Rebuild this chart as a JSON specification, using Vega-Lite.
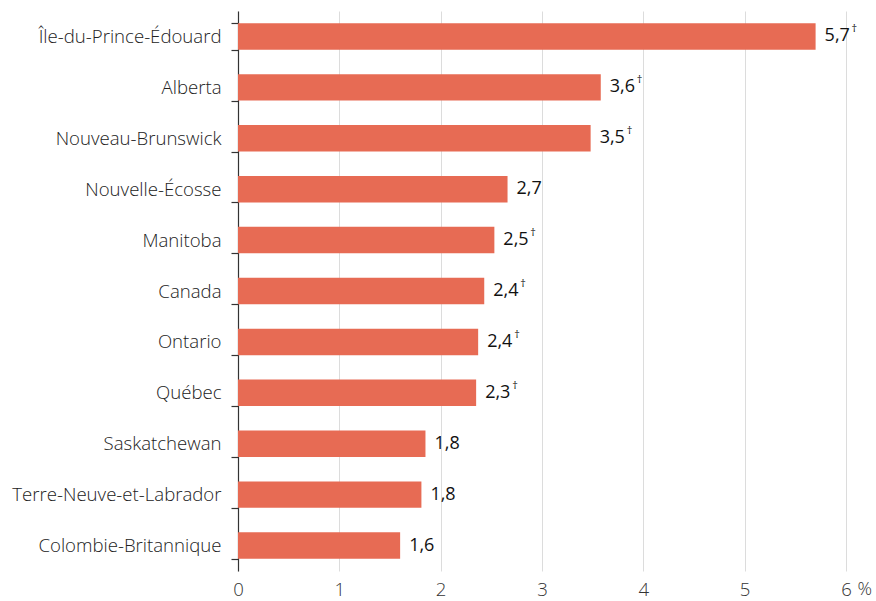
{
  "$schema": "https://vega.github.io/schema/vega-lite/v6.json",
  "autosize": {"type": "none"},
  "padding": {"left": 238, "top": 11, "right": 30, "bottom": 30},
  "width": 608,
  "height": 560,
  "config": {
    "view": {"stroke": null},
    "font": "Open Sans"
  },
  "data": {
    "values": [
      {"region": "Île-du-Prince-Édouard", "value": 5.7, "label": "5,7", "dagger": "†"},
      {"region": "Alberta", "value": 3.58, "label": "3,6", "dagger": "†"},
      {"region": "Nouveau-Brunswick", "value": 3.48, "label": "3,5", "dagger": "†"},
      {"region": "Nouvelle-Écosse", "value": 2.66, "label": "2,7", "dagger": ""},
      {"region": "Manitoba", "value": 2.53, "label": "2,5", "dagger": "†"},
      {"region": "Canada", "value": 2.43, "label": "2,4", "dagger": "†"},
      {"region": "Ontario", "value": 2.37, "label": "2,4", "dagger": "†"},
      {"region": "Québec", "value": 2.35, "label": "2,3", "dagger": "†"},
      {"region": "Saskatchewan", "value": 1.85, "label": "1,8", "dagger": ""},
      {"region": "Terre-Neuve-et-Labrador", "value": 1.81, "label": "1,8", "dagger": ""},
      {"region": "Colombie-Britannique", "value": 1.6, "label": "1,6", "dagger": ""}
    ]
  },
  "encoding": {
    "y": {
      "field": "region",
      "type": "nominal",
      "sort": null,
      "scale": {"paddingInner": 0.48, "paddingOuter": 0.24},
      "axis": {
        "title": null,
        "domainColor": "#333333",
        "domainWidth": 1.2,
        "tickColor": "#333333",
        "tickWidth": 1.2,
        "tickSize": 7,
        "tickBand": "extent",
        "labelPadding": 10,
        "labelFontSize": 18.6,
        "labelFontWeight": 300,
        "labelLimit": 400,
        "labelColor": "#222222",
        "labelFont": "Open Sans",
        "grid": false
      }
    },
    "x": {
      "field": "value",
      "type": "quantitative",
      "scale": {"domain": [0, 6], "nice": false},
      "axis": {
        "values": [0, 1, 2, 3, 4, 5, 6],
        "grid": true,
        "gridColor": "#dcdcdc",
        "gridWidth": 1,
        "domain": false,
        "ticks": false,
        "labelFlush": false,
        "labelPadding": 9,
        "labelFontSize": 18.6,
        "labelFontWeight": 300,
        "labelColor": "#333333",
        "labelFont": "Open Sans",
        "title": "%",
        "titleFont": "Open Sans",
        "titleFontSize": 18,
        "titleFontWeight": 300,
        "titleColor": "#333333",
        "titleAnchor": null,
        "titleAlign": "left",
        "titleBaseline": "top",
        "titleX": 619,
        "titleY": 9
      }
    }
  },
  "layer": [
    {
      "mark": {"type": "bar", "color": "#e76b54"}
    },
    {
      "mark": {"type": "text", "align": "left", "baseline": "middle", "dx": 9, "fontSize": 18, "color": "#111111", "font": "Open Sans"},
      "encoding": {"text": {"field": "label"}}
    },
    {
      "mark": {"type": "text", "align": "left", "baseline": "middle", "dx": 36, "dy": -7, "fontSize": 11, "color": "#111111", "font": "Open Sans"},
      "encoding": {"text": {"field": "dagger"}}
    }
  ]
}
